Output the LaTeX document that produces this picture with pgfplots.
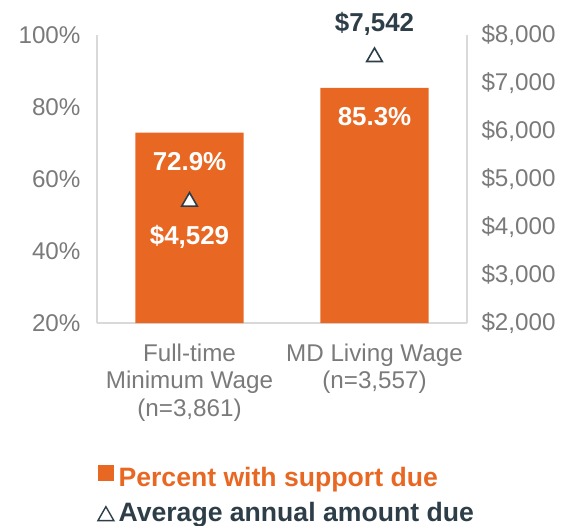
\documentclass[border=0pt]{standalone}
\usepackage{pgfplots}
\pgfplotsset{compat=1.18}
\usepackage{fontspec}
\setmainfont{Liberation Sans}
\definecolor{barorange}{HTML}{E86823}
\definecolor{darktxt}{HTML}{2D3E48}
\definecolor{ticktxt}{HTML}{7A7A7A}
\definecolor{framegray}{HTML}{D9D9D9}
\begin{document}
\begin{tikzpicture}
\path[use as bounding box] (-97bp,-203bp) rectangle (471bp,323bp);
\pgfplotsset{
  every axis/.append style={
    scale only axis, width=370bp, height=288bp,
    xmin=-0.5, xmax=1.5,
    /pgf/number format/assume math mode=true,
    major tick length=0pt,
    tick label style={font=\fontsize{24.3}{28}\selectfont, text=ticktxt},
    axis line style={-, draw=framegray, line width=1.2bp},
  }
}
% bars: percent with support due (left axis)
\begin{axis}[
  axis x line*=bottom, axis y line*=left,
  ymin=20, ymax=100, ytick={20,40,...,100},
  yticklabel={\pgfmathprintnumber{\tick}\%},
  yticklabel style={xshift=-13bp},
  xtick={0,1},
  xticklabels={{Full-time\\Minimum Wage\\(n=3,861)},{MD Living Wage\\(n=3,557)}},
  xticklabel style={align=center, anchor=north, yshift=-17bp},
  ybar, bar width=0.584,
  nodes near coords={\pgfmathprintnumber[fixed,precision=1,fixed zerofill]{\pgfplotspointmeta}\%},
  every node near coord/.append style={anchor=center, yshift=-29bp,
    font=\bfseries\fontsize{26}{30}\selectfont, text=white},
]
\addplot[fill=barorange, draw=none] coordinates {(0,72.9) (1,85.3)};
\end{axis}
% triangles: average annual amount due (right axis)
\begin{axis}[
  axis x line=none, axis y line*=right,
  ymin=2000, ymax=8000, ytick={2000,3000,...,8000},
  scaled y ticks=false,
  yticklabel={\$\pgfmathprintnumber[1000 sep={,}]{\tick}},
  yticklabel style={anchor=west, xshift=11bp},
  legend style={at={(axis description cs:0,-0.494)}, anchor=north west,
    draw=none, fill=none, inner sep=0pt,
    font=\bfseries\fontsize{26.7}{30}\selectfont,
    row sep=9bp, nodes={inner sep=1bp, text height=19bp, text depth=5bp},
    /tikz/every odd column/.append style={column sep=3bp}},
  legend cell align=left,
]
\addplot[forget plot, only marks, mark=triangle*, mark size=9bp,
  mark options={fill=white, draw=darktxt, line width=1.6bp},
  nodes near coords={\$\pgfmathprintnumber[1000 sep={,}]{\pgfplotspointmeta}},
  every node near coord/.append style={anchor=center, yshift=-35bp,
    font=\bfseries\fontsize{26}{30}\selectfont, text=white}]
  coordinates {(0,4529)};
\addplot[forget plot, only marks, mark=triangle*, mark size=9bp,
  mark options={fill=white, draw=darktxt, line width=1.6bp},
  nodes near coords={\$\pgfmathprintnumber[1000 sep={,}]{\pgfplotspointmeta}},
  every node near coord/.append style={anchor=center, yshift=33bp,
    font=\bfseries\fontsize{26}{30}\selectfont, text=darktxt}]
  coordinates {(1,7542)};
\addlegendimage{legend image code/.code={\fill[barorange] (0bp,-1bp) rectangle (15bp,14bp);}}
\addlegendentry{\textcolor{barorange}{Percent with support due}}
\addlegendimage{legend image code/.code={\draw[darktxt, line width=1.4bp, line join=miter] (0bp,-6bp) -- (16bp,-6bp) -- (8bp,8bp) -- cycle;}}
\addlegendentry{\textcolor{darktxt}{Average annual amount due}}
\end{axis}
\end{tikzpicture}
\end{document}
